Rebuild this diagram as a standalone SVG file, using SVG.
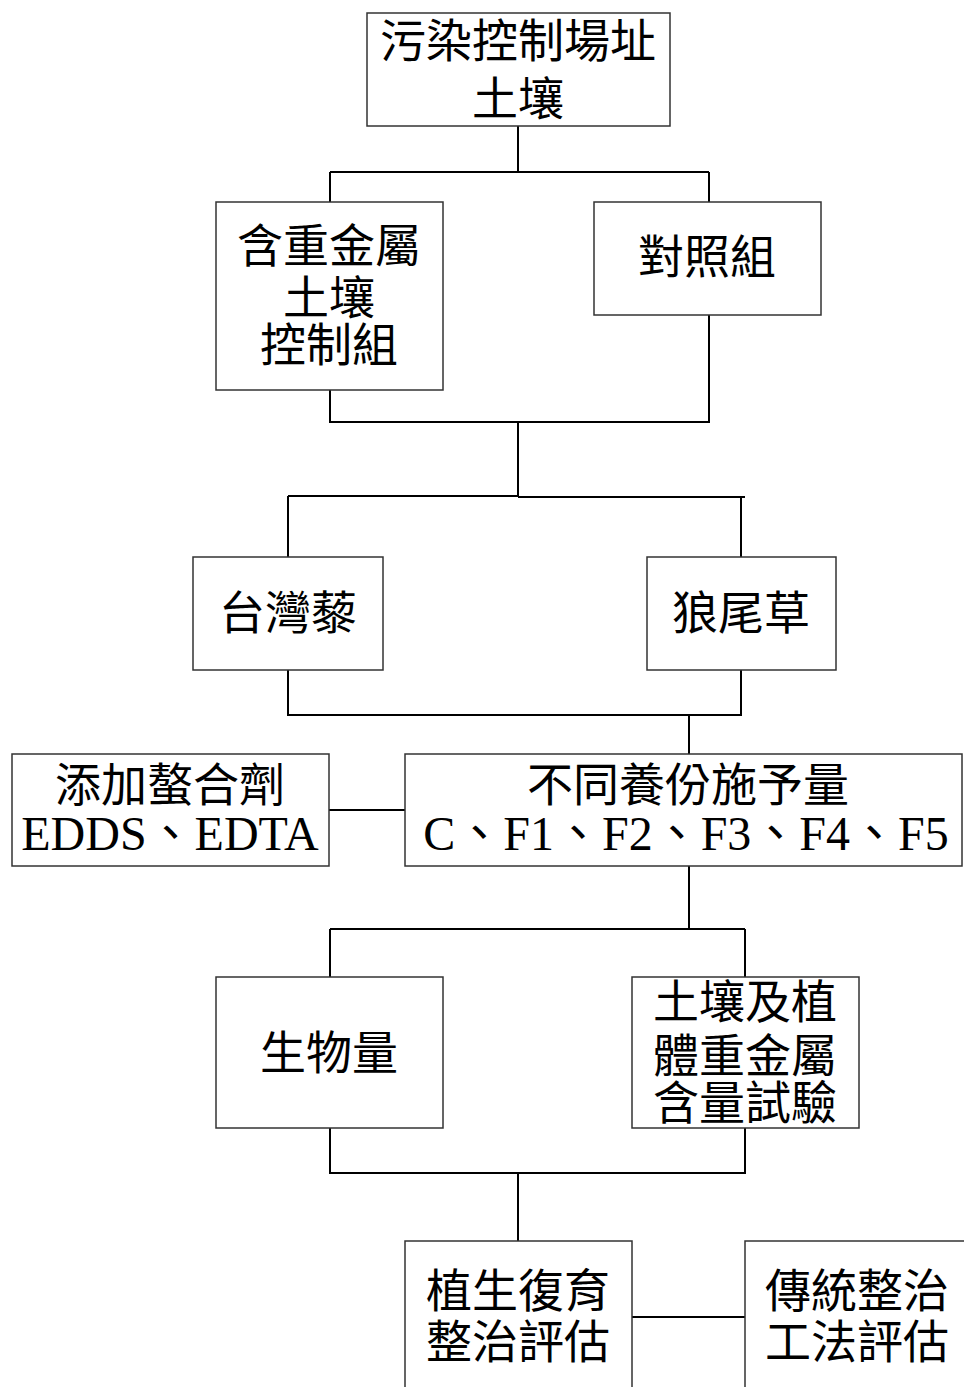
<svg xmlns="http://www.w3.org/2000/svg" width="964" height="1387" viewBox="0 0 964 1387">
<style>
.box{fill:#fff;stroke:#333;stroke-width:1.5}
.ln{fill:none;stroke:#000;stroke-width:2}
text{font-family:"Liberation Serif","Noto Sans CJK TC",serif;font-size:46px;fill:#000;text-anchor:middle;dominant-baseline:central}
.lat{font-size:48px}
</style>
<rect width="964" height="1387" fill="#fff"/>
<g id="connectors">
<path class="ln" d="M518 126V172M330 172H709M330 172V202M709 172V202"/>
<path class="ln" d="M330 390V422H709V315M518 422V496M288 496H518M518 497H745M288 496V557M741 497V557"/>
<path class="ln" d="M288 670V715H741V670M689 715V754"/>
<path class="ln" d="M329 810H405"/>
<path class="ln" d="M689 866V929M330 929H745M330 929V977M745 929V977"/>
<path class="ln" d="M330 1128V1173H745V1128M518 1173V1241"/>
<path class="ln" d="M632 1317H745"/>
</g>
<g id="n1"><rect class="box" x="367" y="13" width="303" height="113"/><text x="518" y="41">污染控制場址</text><text x="518" y="99">土壤</text></g>
<g id="n2"><rect class="box" x="216" y="202" width="227" height="188"/><text x="329" y="246">含重金屬</text><text x="329" y="298">土壤</text><text x="329" y="345">控制組</text></g>
<g id="n3"><rect class="box" x="594" y="202" width="227" height="113"/><text x="707" y="257">對照組</text></g>
<g id="n4"><rect class="box" x="193" y="557" width="190" height="113"/><text x="288" y="613">台灣藜</text></g>
<g id="n5"><rect class="box" x="647" y="557" width="189" height="113"/><text x="741" y="613">狼尾草</text></g>
<g id="n6"><rect class="box" x="12" y="754" width="317" height="112"/><text x="170" y="785">添加螯合劑</text><text class="lat" x="170" y="833">EDDS、EDTA</text></g>
<g id="n7"><rect class="box" x="405" y="754" width="557" height="112"/><text x="688" y="785">不同養份施予量</text><text class="lat" x="686" y="833">C、F1、F2、F3、F4、F5</text></g>
<g id="n8"><rect class="box" x="216" y="977" width="227" height="151"/><text x="329" y="1053">生物量</text></g>
<g id="n9"><rect class="box" x="632" y="977" width="227" height="151"/><text x="745" y="1002">土壤及植</text><text x="745" y="1056">體重金屬</text><text x="745" y="1103">含量試驗</text></g>
<g id="n10"><rect class="box" x="405" y="1241" width="227" height="170"/><text x="518" y="1291">植生復育</text><text x="518" y="1342">整治評估</text></g>
<g id="n11"><rect class="box" x="745" y="1241" width="240" height="170"/><text x="857" y="1291">傳統整治</text><text x="857" y="1342">工法評估</text></g>
</svg>
